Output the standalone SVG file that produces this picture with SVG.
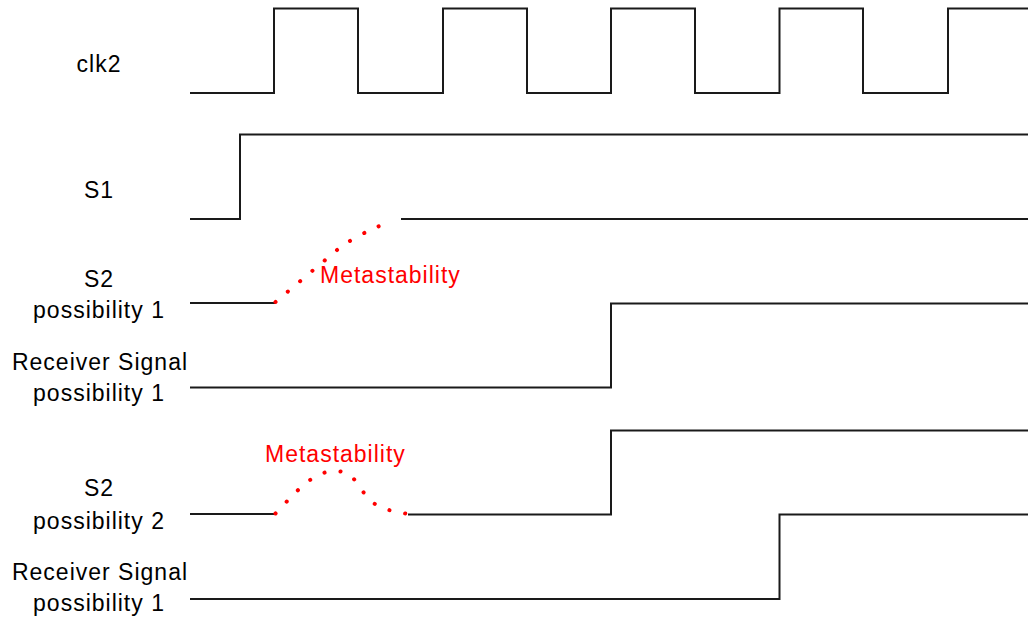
<svg xmlns="http://www.w3.org/2000/svg" width="1028" height="621" viewBox="0 0 1028 621">
  <style>
    .wave { fill: none; stroke: #1a1a1a; stroke-width: 2; stroke-linejoin: miter; }
    .meta { fill: none; stroke: #ff0000; stroke-width: 4; stroke-linecap: round; stroke-dasharray: 0.1 16; }
    .lbl { font-family: "Liberation Sans", Arial, sans-serif; font-size: 23px; letter-spacing: 1px; fill: #000; text-anchor: middle; }
    .mlbl { font-family: "Liberation Sans", Arial, sans-serif; font-size: 23px; letter-spacing: 1px; fill: #ff0000; }
  </style>
  <rect width="1028" height="621" fill="#fff"/>

  <!-- signal names -->
  <g id="labels">
    <text class="lbl" x="99" y="72">clk2</text>
    <text class="lbl" x="99" y="198">S1</text>
    <text class="lbl" x="99" y="287">S2</text>
    <text class="lbl" x="99" y="318">possibility 1</text>
    <text class="lbl" x="100" y="370">Receiver Signal</text>
    <text class="lbl" x="99" y="401">possibility 1</text>
    <text class="lbl" x="99" y="496">S2</text>
    <text class="lbl" x="99" y="529">possibility 2</text>
    <text class="lbl" x="100" y="580">Receiver Signal</text>
    <text class="lbl" x="99" y="611">possibility 1</text>
  </g>

  <g id="clk2">
    <path class="wave" d="M190,93 H274 V8.5 H358 V93 H443 V8.5 H527 V93 H611 V8.5 H695 V93 H779.5 V8.5 H863 V93 H948 V8.5 H1028"/>
  </g>

  <g id="s1">
    <path class="wave" d="M190,219 H240 V134.5 H1028"/>
  </g>

  <g id="s2-possibility-1">
    <path class="wave" d="M190,303 H275"/>
    <path class="meta" d="M275.5,302 L340,247.5 Q362,232 392,221"/>
    <path class="wave" d="M401,219 H1028"/>
    <text class="mlbl" x="320" y="283">Metastability</text>
  </g>

  <g id="receiver-possibility-1a">
    <path class="wave" d="M190,387.5 H611 V303.5 H1028"/>
  </g>

  <g id="s2-possibility-2">
    <path class="wave" d="M190,514 H275"/>
    <path class="meta" d="M275.5,513.5 C296,492 312,472 334,471 C356,470 360,492 370,500 C380,510 394,511 408,514"/>
    <path class="wave" d="M408,514.5 H611 V430.5 H1028"/>
    <text class="mlbl" x="265" y="462">Metastability</text>
  </g>

  <g id="receiver-possibility-1b">
    <path class="wave" d="M190,599 H779.5 V514.5 H1028"/>
  </g>
</svg>
